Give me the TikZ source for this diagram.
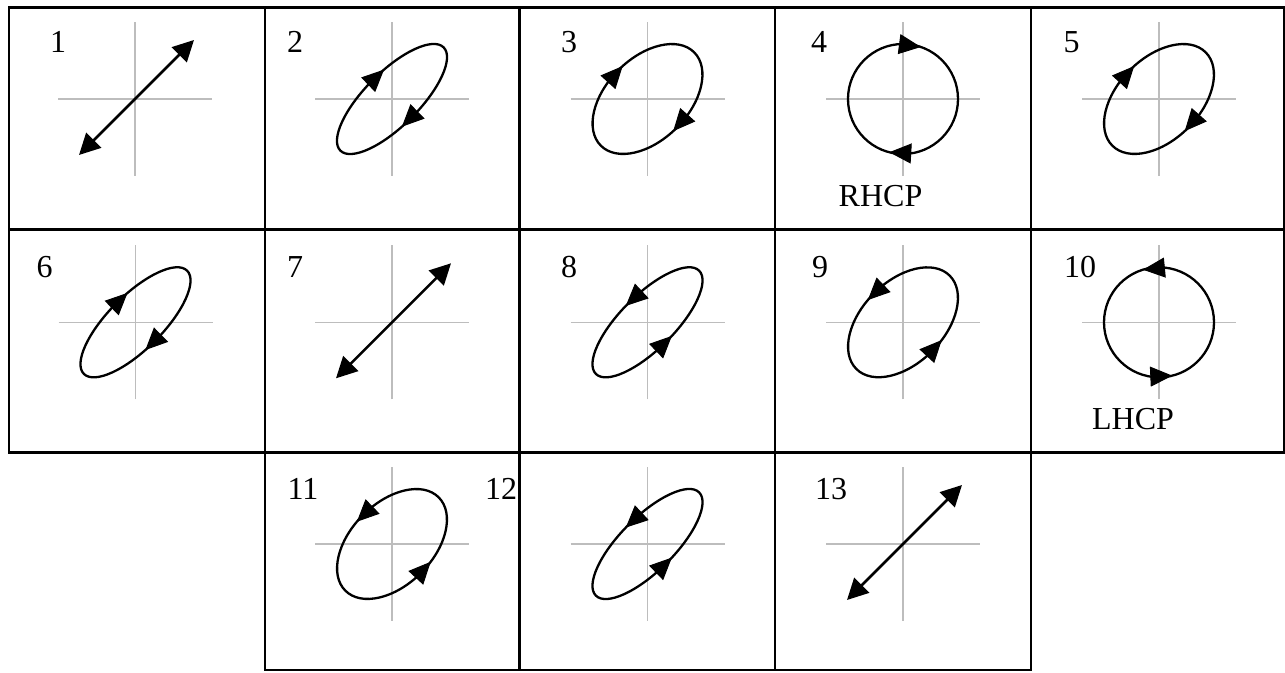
\documentclass[tikz,border=0pt]{standalone}
\usepackage{fontspec}
\setmainfont{Liberation Serif}
\usetikzlibrary{arrows.meta}
\definecolor{axisgray}{gray}{0.74}
\tikzset{
  gridline/.style={line width=2.5pt, black, line cap=rect},
  axisline/.style={line width=1.4pt, color=axisgray},
  curve/.style={line width=2.3pt, black},
  tipmark/.style={line width=1pt, black, -{Triangle[length=22pt,width=20pt]}},
  linpol/.style={line width=2.5pt, black, {Triangle[length=21pt,width=21pt]}-{Triangle[length=21pt,width=21pt]}},
  lab/.style={font=\fontsize{32}{32}\selectfont, inner sep=0pt, anchor=base},
}
% axes cross at (cx,cy)
\newcommand{\polaxes}[2]{%
  \draw[axisline] (#1-77,#2) -- (#1+77,#2);
  \draw[axisline] (#1,#2-77) -- (#1,#2+77);}
% ellipse: cx cy a b base1 tip1 base2 tip2 (parameter angles)
\newcommand{\polell}[8]{%
  \begin{scope}[shift={(#1,#2)},rotate=45]
    \draw[curve] (0,0) ellipse [x radius=#3, y radius=#4];
    \draw[tipmark] (#5:#3 and #4) -- (#6:#3 and #4);
    \draw[tipmark] (#7:#3 and #4) -- (#8:#3 and #4);
  \end{scope}}
% circle: cx cy base1 tip1 base2 tip2
\newcommand{\polcirc}[6]{%
  \begin{scope}[shift={(#1,#2)}]
    \draw[curve] (0,0) circle [radius=55];
    \draw[tipmark] (#3:55) -- (#4:55);
    \draw[tipmark] (#5:55) -- (#6:55);
  \end{scope}}
% linear: cx cy
\newcommand{\pollin}[2]{%
  \draw[linpol] (#1-56,#2-56) -- (#1+59,#2+59);}
\begin{document}
\begin{tikzpicture}[x=1pt,y=1pt]
\useasboundingbox (0,0) rectangle (1285,672);
\fill[white] (0,0) rectangle (1285,672);
% grid
\draw[gridline] (9,664.5) -- (1284,664.5);
\draw[gridline] (9,442.5) -- (1284,442.5);
\draw[gridline] (9,219.5) -- (1284,219.5);
\draw[gridline] (265,2) -- (1031,2);
\draw[gridline] (9,219.5) -- (9,664.5);
\draw[gridline] (1284,219.5) -- (1284,664.5);
\draw[gridline] (265,2) -- (265,664.5);
\draw[gridline] (519.5,2) -- (519.5,664.5);
\draw[gridline] (775,2) -- (775,664.5);
\draw[gridline] (1031,2) -- (1031,664.5);
% axes
\polaxes{135}{573}\polaxes{392}{573}\polaxes{647.5}{573}\polaxes{903}{573}\polaxes{1159}{573}
\polaxes{135.5}{349.7}\polaxes{392}{349.7}\polaxes{647.5}{349.7}\polaxes{903}{349.7}\polaxes{1159}{349.7}
\polaxes{392}{128}\polaxes{647.5}{128}\polaxes{903}{128}
% row 1
\pollin{135}{573}
\polell{392}{573}{73}{27}{95}{78}{277}{260}
\polell{647.5}{573}{66}{41}{104}{85}{285}{266}
\polcirc{903}{573}{94}{71}{278}{255.5}
\polell{1159}{573}{66}{41}{104}{85}{285}{266}
% row 2
\polell{135.5}{349.7}{73}{27}{95}{78}{277}{260}
\pollin{392}{349.7}
\polell{647.5}{349.7}{73}{27}{76}{93}{259}{276}
\polell{903}{349.7}{66}{41}{79}{98}{264}{283}
\polcirc{1159}{349.7}{84}{107}{261}{284}
% row 3
\polell{392}{128}{66}{41}{79}{98}{264}{283}
\polell{647.5}{128}{73}{27}{76}{93}{259}{276}
\pollin{903}{128}
% labels
\node[lab] (l1) at (58,619) {1};
\node[lab] (l2) at (295,619) {2};
\node[lab] (l3) at (569,619) {3};
\node[lab] (l4) at (819,619) {4};
\node[lab] (l5) at (1071.5,619) {5};
\node[lab] (l6) at (44.5,394) {6};
\node[lab] (l7) at (295,394) {7};
\node[lab] (l8) at (569,394) {8};
\node[lab] (l9) at (820,394) {9};
\node[lab] (l10) at (1080,394) {10};
\node[lab] (l11) at (303,172) {11};
\node[lab] (l12) at (501,172) {12};
\node[lab] (l13) at (831,172) {13};
\node[lab] (rhcp) at (880.5,465) {RHCP};
\node[lab] (lhcp) at (1133,242) {LHCP};
\end{tikzpicture}
\end{document}
